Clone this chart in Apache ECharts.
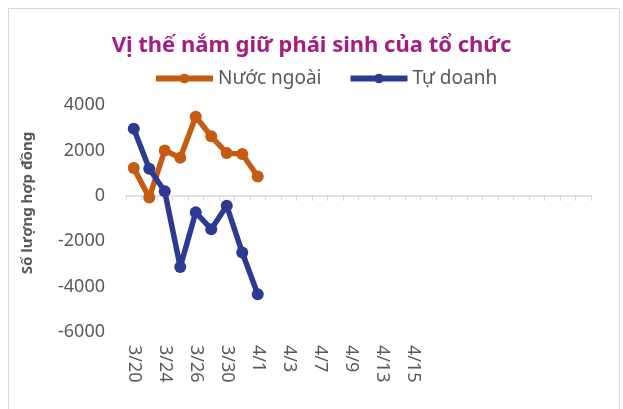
<!DOCTYPE html>
<html>
<head>
<meta charset="utf-8">
<script src="https://cdn.jsdelivr.net/npm/echarts@6/dist/echarts.min.js"></script>
<style>html,body{margin:0;padding:0;background:#fff}#c{width:623px;height:409px}</style>
</head>
<body>
<div id="c"></div>
<script>
var categories = ['3/20','3/23','3/24','3/25','3/26','3/27','3/30','3/31','4/1','4/2','4/3','4/6','4/7','4/8','4/9','4/10','4/13','4/14','4/15','4/16','','','','','','','','','',''];
var nuocNgoai = [1220, -80, 2000, 1680, 3480, 2620, 1880, 1840, 850];
var tuDoanh = [2950, 1190, 200, -3140, -730, -1470, -440, -2500, -4340];
var yTicks = { min: -6000, max: 4000, interval: 2000 };
var titleText = 'Vị thế nắm giữ phái sinh của tổ chức';
var yName = 'Số lượng hợp đồng';
var seriesNames = ['Nước ngoài', 'Tự doanh'];

var FONT = '"Noto Sans", "Open Sans", sans-serif';
var chart = echarts.init(document.getElementById('c'), null, { renderer: 'canvas' });
chart.setOption({
  animation: false,
  backgroundColor: '#fff',
  title: {
    text: titleText, left: 'center', top: 30,
    textStyle: { color: '#a51c84', fontSize: 22, fontWeight: 'bold', fontFamily: FONT }
  },
  legend: {
    top: 69, left: 153, padding: 0, itemWidth: 57, itemHeight: 12, itemGap: 26,
    textStyle: { color: '#595959', fontSize: 19, fontFamily: FONT },
    lineStyle: { width: 6 },
    data: seriesNames
  },
  grid: { left: 126, right: 32, top: 105, bottom: 77, containLabel: false },
  xAxis: [{
    type: 'category', data: categories, boundaryGap: true,
    axisLine: { onZero: true, lineStyle: { color: '#d9d9d9', width: 1.5 } },
    axisTick: { show: true, interval: 0, length: 5, lineStyle: { color: '#d9d9d9' } },
    axisLabel: { show: false }, splitLine: { show: false }
  }, {
    type: 'category', data: categories, position: 'bottom', boundaryGap: true,
    axisLine: { show: false, onZero: false }, axisTick: { show: false },
    axisLabel: { show: true, interval: 1, rotate: -90, margin: 13, color: '#595959', fontSize: 18, fontFamily: FONT },
    splitLine: { show: false }
  }],
  yAxis: {
    type: 'value', min: yTicks.min, max: yTicks.max, interval: yTicks.interval,
    axisLine: { show: false }, axisTick: { show: false }, splitLine: { show: false },
    axisLabel: { margin: 21, color: '#595959', fontSize: 18, fontFamily: FONT, formatter: function (v) { return String(v); } }
  },
  graphic: [
    { type: 'rect', shape: { x: 8.5, y: 8.5, width: 611, height: 420 }, style: { fill: 'none', stroke: '#d9d9d9', lineWidth: 1 }, silent: true },
    { type: 'text', x: 28, y: 203, rotation: Math.PI / 2, style: { text: yName, fill: '#595959', font: 'bold 15px ' + FONT, align: 'center', verticalAlign: 'middle' } }
  ],
  series: [{
    name: seriesNames[0], type: 'line', data: nuocNgoai, xAxisIndex: 0,
    symbol: 'circle', symbolSize: 12, showSymbol: true, showAllSymbol: true, color: '#c55a11',
    lineStyle: { width: 5.5, color: '#c55a11' }, itemStyle: { color: '#c55a11' }
  }, {
    name: seriesNames[1], type: 'line', data: tuDoanh, xAxisIndex: 0,
    symbol: 'circle', symbolSize: 12, showSymbol: true, showAllSymbol: true, color: '#2c3b91',
    lineStyle: { width: 5.5, color: '#2c3b91' }, itemStyle: { color: '#2c3b91' }
  }]
});
</script>
</body>
</html>
